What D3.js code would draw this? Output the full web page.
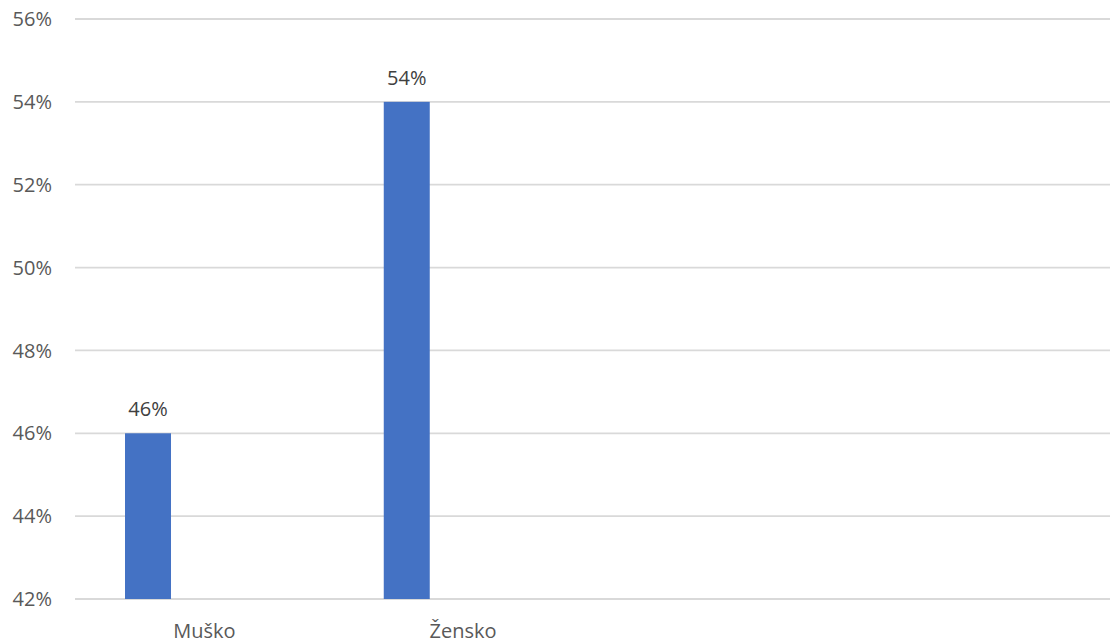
<!DOCTYPE html>
<html>
<head>
<meta charset="utf-8">
<script src="https://cdn.jsdelivr.net/npm/d3@7"></script>
<style>
  body { margin: 0; background: #fff; }
  text { font-family: "Open Sans", sans-serif; fill: #595959; }
</style>
</head>
<body>
<script>
// categories (last two are empty slots in the original chart)
const categories = ["Muško", "Žensko", "", " "];
const series = ["s1", "s2", "s3"];
const values = [0.46, 0.54, null, null];
const yTicks = [0.42, 0.44, 0.46, 0.48, 0.50, 0.52, 0.54, 0.56];

const margin = { top: 19, right: 0, bottom: 45, left: 75 };
const width = 1110 - margin.left - margin.right;
const height = 644 - margin.top - margin.bottom;

const x0 = d3.scaleBand()
  .domain(categories)
  .range([0, width]);

const x1 = d3.scaleBand()
  .domain(series)
  .range([0, x0.bandwidth()])
  .paddingInner(0.184)
  .paddingOuter(0.887);

const y = d3.scaleLinear()
  .domain([0.42, 0.56])
  .range([height, 0]);

const svg = d3.select("body").append("svg")
  .attr("width", 1110)
  .attr("height", 644)
  .append("g")
  .attr("transform", "translate(" + margin.left + "," + margin.top + ")");

// gridlines
svg.selectAll(".grid")
  .data(yTicks)
  .enter().append("line")
  .attr("class", "grid")
  .attr("x1", 0)
  .attr("x2", width)
  .attr("y1", d => y(d))
  .attr("y2", d => y(d))
  .attr("stroke", "#d9d9d9")
  .attr("stroke-width", 1.8);

// y tick labels
svg.selectAll(".ytick")
  .data(yTicks)
  .enter().append("text")
  .attr("class", "ytick")
  .attr("x", -23)
  .attr("y", d => y(d))
  .attr("dy", "0.36em")
  .attr("text-anchor", "end")
  .style("font-size", "20px")
  .text(d => d3.format(".0%")(d));

const data = categories.map((c, i) => ({ cat: c, value: values[i] }))
  .filter(d => d.value != null);

// bars
svg.selectAll(".bar")
  .data(data)
  .enter().append("rect")
  .attr("class", "bar")
  .attr("x", d => x0(d.cat) + x1("s1"))
  .attr("width", x1.bandwidth())
  .attr("y", d => y(d.value))
  .attr("height", d => height - y(d.value))
  .attr("fill", "#4472c4");

// data labels
svg.selectAll(".label")
  .data(data)
  .enter().append("text")
  .attr("class", "label")
  .attr("x", d => x0(d.cat) + x1("s1") + x1.bandwidth() / 2)
  .attr("y", d => y(d.value) - 17)
  .attr("text-anchor", "middle")
  .style("font-size", "20px")
  .style("fill", "#404040")
  .text(d => d3.format(".0%")(d.value));

// category labels
svg.selectAll(".cat")
  .data(categories)
  .enter().append("text")
  .attr("class", "cat")
  .attr("x", d => x0(d) + x0.bandwidth() / 2)
  .attr("y", height + 39)
  .attr("text-anchor", "middle")
  .style("font-size", "20px")
  .text(d => d);
</script>
</body>
</html>
